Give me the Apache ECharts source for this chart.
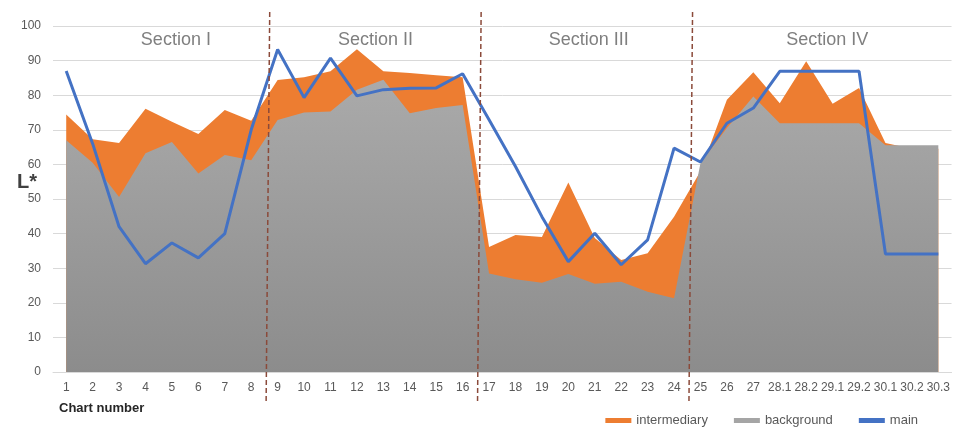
<!DOCTYPE html>
<html><head><meta charset="utf-8">
<script src="https://cdn.jsdelivr.net/npm/echarts@6/dist/echarts.min.js"></script>
<style>html,body{margin:0;padding:0;background:#fff}#c{width:953px;height:428px}</style>
</head><body><div id="c"></div>
<script>
const categories = ['1','2','3','4','5','6','7','8','9','10','11','12','13','14','15','16','17','18','19','20','21','22','23','24','25','26','27','28.1','28.2','29.1','29.2','30.1','30.2','30.3'];
const intermediary = [74.4, 67.3, 66.2, 76.1, 72.3, 68.8, 75.7, 72.6, 84.4, 85.2, 86.9, 93.3, 86.9, 86.4, 85.8, 85.2, 36.1, 39.6, 39.0, 54.8, 38.7, 32.4, 34.3, 44.9, 58.0, 78.7, 86.6, 77.7, 89.8, 77.5, 82.1, 66.2, 64.5, 64.5];
const background = [67.0, 60.5, 50.6, 63.2, 66.5, 57.4, 62.7, 61.2, 72.8, 75.0, 75.3, 81.6, 84.5, 74.8, 76.3, 77.2, 28.5, 26.8, 25.8, 28.3, 25.5, 26.1, 23.2, 21.3, 60.4, 70.5, 79.6, 71.9, 71.9, 71.9, 71.9, 65.5, 65.5, 65.5];
const main = [87.0, 66.0, 42.0, 31.3, 37.3, 33.0, 40.0, 70.0, 93.2, 79.3, 90.7, 79.8, 81.6, 82.0, 82.1, 86.2, 72.9, 59.4, 44.9, 31.9, 40.1, 31.0, 38.2, 64.7, 60.7, 71.9, 76.3, 86.9, 86.9, 86.9, 86.9, 34.1, 34.1, 34.1];
const sectionNames = ['Section I', 'Section II', 'Section III', 'Section IV'];
const sectionCenters = [4.65, 12.2, 20.27, 29.3];
const sectionBoundaries = [8, 16, 24];

const font = '"Liberation Sans", Arial, sans-serif';
const chart = echarts.init(document.getElementById('c'), null, {renderer: 'canvas'});
chart.setOption({
  animation: false,
  textStyle: {fontFamily: font},
  grid: {left: 53, right: 1, top: 26, bottom: 56, containLabel: false},
  xAxis: [{
    type: 'category', data: categories, boundaryGap: true,
    axisLine: {show: true, lineStyle: {color: '#d9d9d9'}},
    axisTick: {show: false},
    axisLabel: {color: '#595959', fontSize: 12, margin: 10, interval: 0, fontFamily: font},
    splitLine: {show: false}
  }, {
    type: 'value', min: 0, max: categories.length, show: false
  }],
  yAxis: {
    type: 'value', min: 0, max: 100, interval: 10,
    axisLine: {show: false}, axisTick: {show: false},
    axisLabel: {color: '#595959', fontSize: 12, margin: 12, fontFamily: font},
    splitLine: {lineStyle: {color: '#d9d9d9', width: 1}}
  },
  legend: {
    right: 30, top: 409, itemWidth: 26, itemHeight: 5, itemGap: 26, icon: 'rect',
    textStyle: {color: '#595959', fontSize: 13, fontFamily: font},
    data: ['intermediary', 'background', 'main']
  },
  series: [{
    name: 'intermediary', type: 'line', data: intermediary, symbol: 'none',
    lineStyle: {width: 0}, itemStyle: {color: '#ED7D31'},
    areaStyle: {color: '#ED7D31', opacity: 1}
  }, {
    name: 'background', type: 'line', data: background, symbol: 'none',
    lineStyle: {width: 0}, itemStyle: {color: '#a5a5a5'},
    areaStyle: {opacity: 1, color: new echarts.graphic.LinearGradient(0, 0, 0, 1, [
      {offset: 0, color: '#aaaaaa'}, {offset: 1, color: '#8c8c8c'}])}
  }, {
    name: 'main', type: 'line', data: main, symbol: 'none',
    lineStyle: {width: 3, color: '#4472C4'}, itemStyle: {color: '#4472C4'}
  }]
});

const g = [];
sectionBoundaries.forEach(b => {
  const x = chart.convertToPixel({xAxisIndex: 1}, b);
  g.push({type: 'line', z: 100, silent: true,
    shape: {x1: x + 1.7, y1: 401, x2: x + 5.3, y2: 11},
    style: {stroke: '#8b4a3a', lineWidth: 1.5, lineDash: [5, 3]}});
});
sectionNames.forEach((s, i) => {
  const x = chart.convertToPixel({xAxisIndex: 1}, sectionCenters[i]);
  g.push({type: 'text', z: 100, silent: true, x: x, y: 40,
    style: {text: s, fill: '#7f7f7f', font: '18px ' + font, align: 'center', verticalAlign: 'middle'}});
});
g.push({type: 'text', z: 100, x: 17, y: 182,
  style: {text: 'L*', fill: '#404040', font: 'bold 20px ' + font, align: 'left', verticalAlign: 'middle'}});
g.push({type: 'text', z: 100, x: 59, y: 408,
  style: {text: 'Chart number', fill: '#262626', font: 'bold 13px ' + font, align: 'left', verticalAlign: 'middle'}});
chart.setOption({graphic: g});
</script>
</body></html>
